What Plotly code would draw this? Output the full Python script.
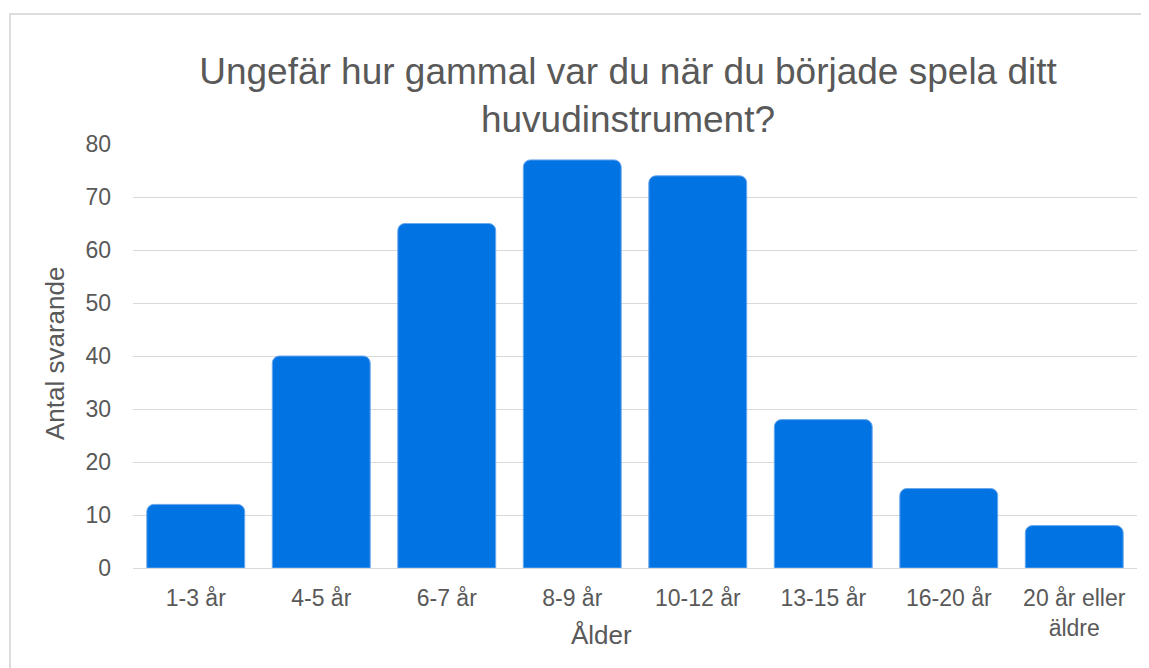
import plotly.graph_objects as go

categories = ["1-3 år", "4-5 år", "6-7 år", "8-9 år", "10-12 år", "13-15 år", "16-20 år", "20 år eller<br>äldre"]
values = [12, 40, 65, 77, 74, 28, 15, 8]
y_ticks = [0, 10, 20, 30, 40, 50, 60, 70, 80]

FONT = "Liberation Sans, Arial, sans-serif"
TXT = "#595959"

# The browser page body has an 8px margin: work in page pixels, convert to figure pixels.
OFF = 8
FW, FH = 1149 - OFF, 668 - OFF
# plot area in page pixels
L, R, T, B = 133, 1137, 144, 568
W, H = R - L, B - T


def px_x(x):
    return (x - L) / W


def px_y(y):
    return (B - y) / H


fig = go.Figure(go.Bar(
    x=categories, y=values,
    marker=dict(color="#0273E3", line=dict(color="#6BA8EC", width=1), cornerradius=7),
    width=0.78,
))

fig.update_layout(
    width=FW, height=FH,
    margin=dict(l=L - OFF, r=FW - (R - OFF), t=T - OFF, b=FH - (B - OFF), autoexpand=False),
    paper_bgcolor="white", plot_bgcolor="white",
    font=dict(family=FONT, color=TXT, size=23),
    title=dict(
        text="Ungefär hur gammal var du när du började spela ditt<br>huvudinstrument?",
        font=dict(size=37, color=TXT, family=FONT),
        x=px_x(628), xref="paper", xanchor="center",
        y=1 - (84 - OFF) / FH, yanchor="middle", yref="container",
    ),
    showlegend=False,
    shapes=[dict(type="rect", xref="paper", yref="paper",
                 x0=px_x(10), x1=px_x(1200),
                 y0=px_y(720), y1=px_y(14),
                 line=dict(color="#DDDDDD", width=2), fillcolor="rgba(0,0,0,0)", layer="below")],
    annotations=[
        dict(text="Ålder", xref="paper", yref="paper", x=px_x(601), y=px_y(635),
             xanchor="center", yanchor="middle", showarrow=False,
             font=dict(size=26, color=TXT, family=FONT)),
        dict(text="Antal svarande", xref="paper", yref="paper", x=px_x(55), y=px_y(354),
             xanchor="center", yanchor="middle", showarrow=False, textangle=-90,
             font=dict(size=26, color=TXT, family=FONT)),
    ],
)

fig.update_yaxes(
    range=[0, 80], tickvals=y_ticks, showgrid=True, gridcolor="#D9D9D9", gridwidth=1,
    zeroline=True, zerolinecolor="#D9D9D9", zerolinewidth=1, showline=False,
    ticks="", ticklabelstandoff=21, automargin=False,
    tickfont=dict(size=23, color=TXT),
)
fig.update_xaxes(
    showgrid=False, showline=False, ticks="", automargin=False,
    tickfont=dict(size=23, color=TXT), ticklabelstandoff=14,
)

fig.write_html("out.html")
